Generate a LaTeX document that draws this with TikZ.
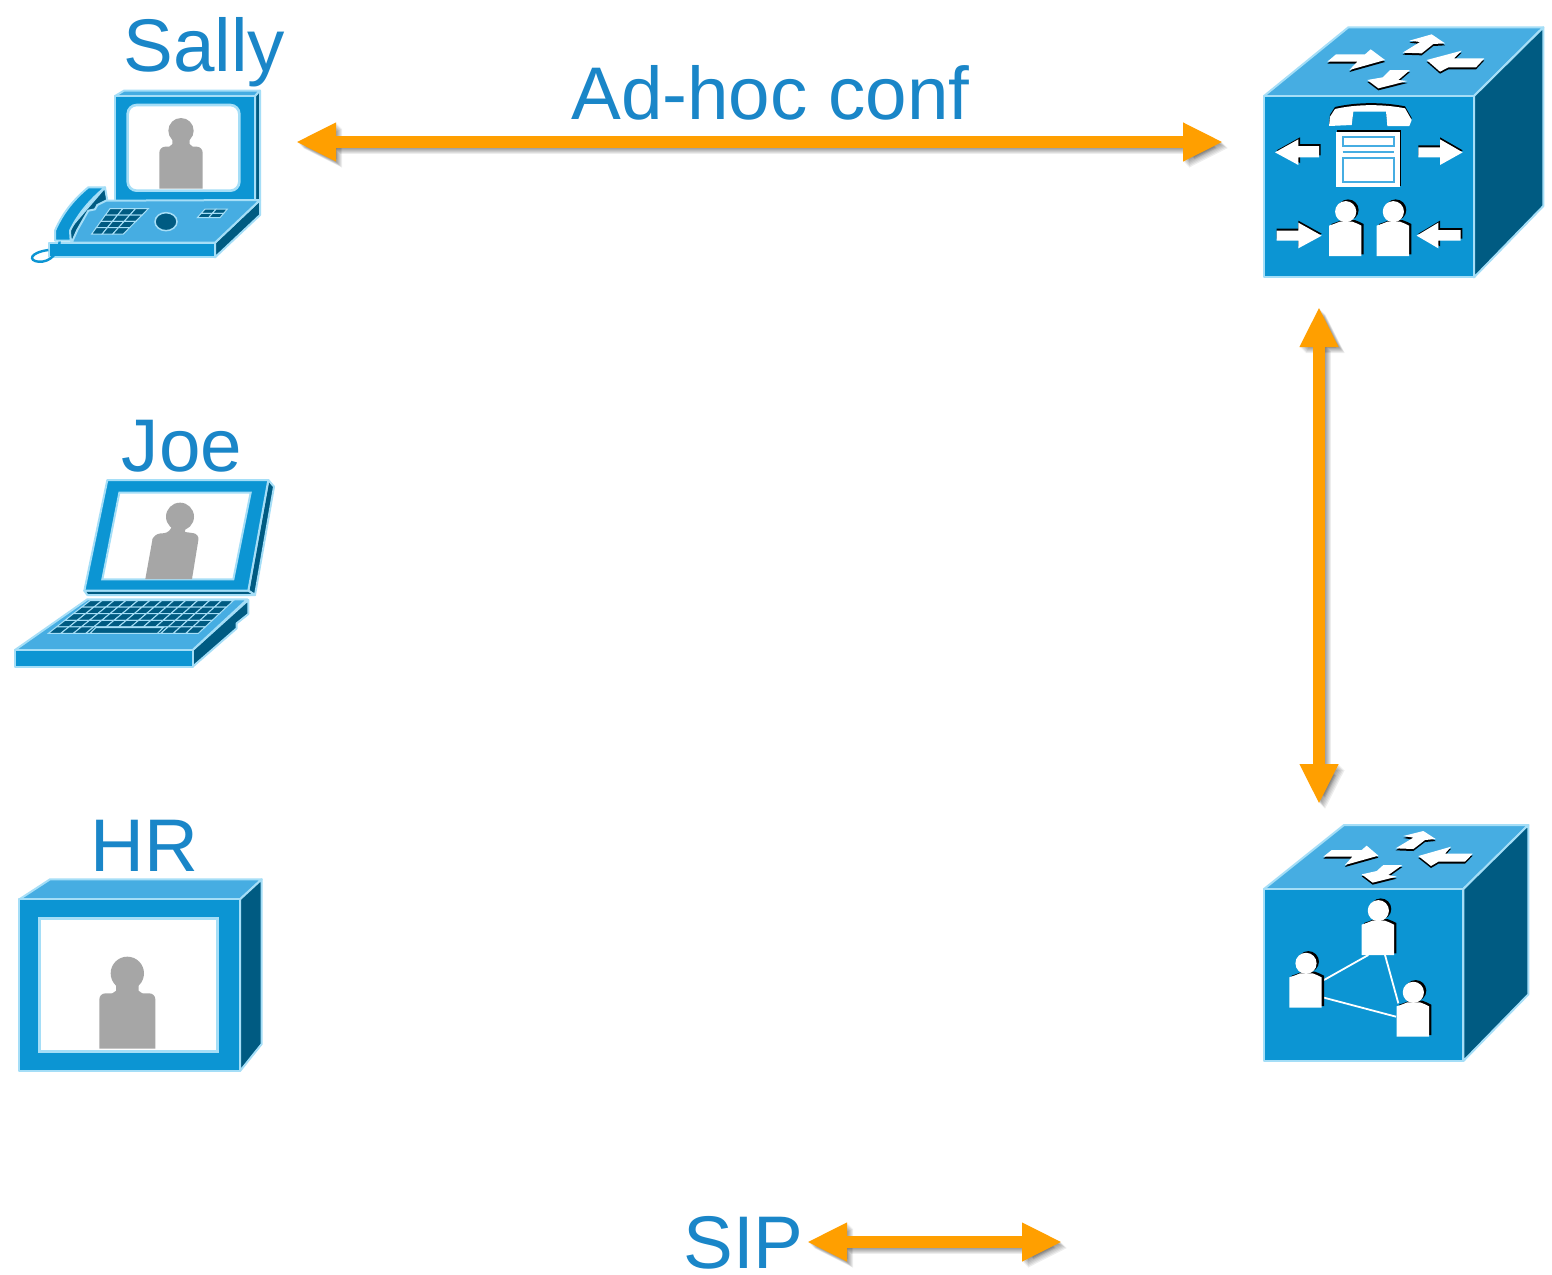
\documentclass[tikz,border=0pt]{standalone}
\usepackage{fontspec}
\setmainfont{Liberation Sans}
\usetikzlibrary{arrows.meta}
\definecolor{cfront}{HTML}{0C95D3}
\definecolor{ctop}{HTML}{46ADE2}
\definecolor{cside}{HTML}{005B82}
\definecolor{cedge}{HTML}{A5DEF7}
\definecolor{cgrey}{HTML}{A6A6A6}
\definecolor{corange}{HTML}{FF9F00}
\definecolor{ctext}{HTML}{1A86C8}
\tikzset{
  front/.style={fill=cfront,draw=cedge,line width=1pt,line join=round},
  topface/.style={fill=ctop,draw=cedge,line width=1pt,line join=round},
  sideface/.style={fill=cside,draw=cedge,line width=1pt,line join=round},
  screenface/.style={fill=white,draw=cedge,line width=1.3pt},
  darkkey/.style={fill=cside,draw=cedge,line width=.5pt},
  silhouette/.style={fill=cgrey,draw=none},
  whiteglyph/.style={fill=white,draw=none},
  blackglyph/.style={fill=black,draw=none},
  formline/.style={draw=ctop,line width=1pt},
  meshline/.style={draw=white,line width=.9pt},
  label/.style={text=ctext,font=\fontsize{37.3}{40}\selectfont,anchor=base west,inner sep=0pt},
  link/.style={draw=corange,line width=6pt,{Triangle[length=20pt,width=18pt]}-{Triangle[length=20pt,width=18pt]}},
  linkshadow/.style={draw=black,opacity=.07,line width=6pt,{Triangle[length=20pt,width=18pt]}-{Triangle[length=20pt,width=18pt]}},
  zoomed/.style={shift={#1},x=.16667pt,y=-.16667pt}
}
% arrow with its soft shadow
\newcommand\duplex[2]{%
  \foreach \dx/\dy in {1/1,2/2,3/3,4/4,5/5,6/6}
    \draw[linkshadow] ([shift={(\dx*.5pt,-\dy*.5pt)}]#1) -- ([shift={(\dx*.5pt,-\dy*.5pt)}]#2);
  \draw[link] (#1) -- (#2);}
% white glyph with a black offset copy: {dx,dy}{path}
\newcommand\glyph[2]{%
  \fill[blackglyph,shift={(#1)}] #2;
  \fill[whiteglyph] #2;}
\newcommand\whitebody[2]{(#1-50,#2+133) -- (#1-50,#2+42) -- (#1-33,#2+36) -- (#1-18,#2+30) -- (#1+20,#2+30) -- (#1+35,#2+36) -- (#1+47,#2+42) -- (#1+47,#2+133) -- cycle}
% white person: head x, head y
\newcommand\whiteperson[2]{%
  \begin{scope}[shift={(7*.16667pt,5*.16667pt)}]
    \fill[blackglyph] (#1,#2) circle[radius=5.3pt];
    \fill[blackglyph] \whitebody{#1}{#2};
  \end{scope}
  \fill[whiteglyph] (#1,#2) circle[radius=5.3pt];
  \fill[whiteglyph] \whitebody{#1}{#2};}
% grey person: cx, head y, head radius, half body width, shoulder y, bottom y
\newcommand\greyperson[6]{%
  \fill[silhouette] (#1,#2) circle[radius=#3*.16667pt];
  \fill[silhouette] (#1-.4*#4,#2) -- (#1-.4*#4,#5-8) -- (#1-.6*#4,#5+4) -- (#1+.6*#4,#5+4) -- (#1+.4*#4,#5-8) -- (#1+.4*#4,#2) -- cycle;
  \fill[silhouette] (#1-#4,#6) [rounded corners=3pt] -- (#1-#4,#5) -- (#1+#4,#5) [sharp corners] -- (#1+#4,#6) -- cycle;}
% key grid in a parallelogram: corners a(top-left x) b(top-right x) c(bottom-right x) d(bottom-left x) top bottom rows cols
\newcommand\keygrid[8]{%
  \foreach \r in {1,...,#7}{
    \foreach \c in {1,...,#8}{
      \pgfmathsetmacro\ya{#5+(#6-#5)*(\r-1)/#7}
      \pgfmathsetmacro\yb{#5+(#6-#5)*\r/#7}
      \pgfmathsetmacro\la{#1+(#4-#1)*(\r-1)/#7}
      \pgfmathsetmacro\ra{#2+(#3-#2)*(\r-1)/#7}
      \pgfmathsetmacro\lb{#1+(#4-#1)*\r/#7}
      \pgfmathsetmacro\rb{#2+(#3-#2)*\r/#7}
      \draw[darkkey] ({\la+(\ra-\la)*(\c-1)/#8},\ya) -- ({\la+(\ra-\la)*\c/#8},\ya) -- ({\lb+(\rb-\lb)*\c/#8},\yb) -- ({\lb+(\rb-\lb)*(\c-1)/#8},\yb) -- cycle;
    }}}
\begin{document}
\begin{tikzpicture}[x=.5pt,y=-.5pt]
\useasboundingbox (0,0) rectangle (1552,1274);
\fill[white] (0,0) rectangle (1552,1274);

% ---------- Sally: video phone
\begin{scope}[zoomed={(0,70)}]
  \draw[topface] (345,78) -- (372,62) -- (780,62) -- (765,78) -- cycle;
  \draw[sideface] (765,78) -- (780,62) -- (780,390) -- (765,395) -- cycle;
  \draw[front] (345,78) rectangle (765,395);
  \draw[screenface,rounded corners=4.5pt] (383,105) rectangle (718,362);
  \greyperson{543}{182}{38}{65}{230}{356}
  \draw[sideface] (645,518) -- (780,390) -- (780,435) -- (645,562) -- cycle;
  \draw[sideface] (315,352) -- (322,392) -- (215,518) -- (205,480) -- cycle;
  \draw[topface] (318,392) -- (780,390) -- (645,518) -- (215,518) -- (232,480) -- (265,422) -- (285,418) -- (292,405) -- cycle;
  \draw[front] (148,518) rectangle (645,562);
  \keygrid{330}{445}{370}{275}{416}{492}{4}{3}
  \draw[darkkey,line width=.75pt] (498,455) ellipse[x radius=33,y radius=27];
  \keygrid{615}{682}{660}{592}{417}{443}{2}{2}
  \draw[cfront,line width=1.2pt] (180,505) .. controls (178,550) and (150,578) .. (115,575) .. controls (85,572) and (88,548) .. (145,540);
  \draw[front] (165,482) .. controls (190,425) and (225,385) .. (265,352) -- (315,352) .. controls (270,390) and (235,430) .. (210,482) -- (212,512) -- (165,512) -- cycle;
\end{scope}

% ---------- Joe: laptop
\begin{scope}[zoomed={(0,470)}]
  \draw[sideface] (805,30) -- (822,50) -- (765,375) -- (745,362) -- cycle;
  \draw[sideface] (253,362) -- (745,362) -- (765,375) -- (262,375) -- cycle;
  \draw[front] (322,30) -- (805,30) -- (745,362) -- (253,362) -- cycle;
  \draw[screenface,line width=1pt] (358,68) -- (752,68) -- (700,328) -- (307,328) -- cycle;
  \fill[silhouette] (540,140) circle[radius=7pt];
  \fill[silhouette] (436,327) -- (458,205) [rounded corners=3pt] -- (462,192) -- (510,188) [sharp corners] -- (515,170) -- (555,170) -- (555,186) [rounded corners=3pt] -- (598,192) [sharp corners] -- (576,327) -- cycle;
  \draw[sideface] (578,540) -- (745,390) -- (745,432) -- (710,460) -- (710,475) -- (578,590) -- cycle;
  \draw[topface] (262,388) -- (742,388) -- (578,540) -- (45,540) -- cycle;
  \draw[front] (45,540) rectangle (578,592);
  \keygrid{270}{700}{595}{145}{392}{490}{5}{12}
  \draw[darkkey] (287,473) -- (490,473) -- (472,490) -- (270,490) -- cycle;
\end{scope}

% ---------- HR: video endpoint
\begin{scope}[zoomed={(0,870)}]
  \draw[topface] (58,88) -- (150,28) -- (785,28) -- (720,88) -- cycle;
  \draw[sideface] (720,88) -- (785,28) -- (785,522) -- (720,603) -- cycle;
  \draw[front] (58,88) rectangle (720,603);
  \draw[screenface] (118,145) rectangle (652,545);
  \greyperson{382}{310}{50}{84}{370}{536}
\end{scope}

% ---------- Conference bridge cube
\begin{scope}[zoomed={(1250,20)}]
  \draw[topface] (42,228) -- (295,22) -- (880,22) -- (672,228) -- cycle;
  \draw[sideface] (672,228) -- (880,22) -- (880,558) -- (672,772) -- cycle;
  \draw[front] (42,228) rectangle (672,772);
  \glyph{0,-6*.16667pt}{(232,125) -- (258,103) -- (345,103) -- (362,88) -- (405,120) -- (298,150) -- (322,125) -- cycle}
  \glyph{0,-6*.16667pt}{(458,98) -- (510,66) -- (478,62) -- (545,43) -- (585,70) -- (550,72) -- (515,100) -- cycle}
  \glyph{0,-6*.16667pt}{(530,120) -- (635,92) -- (612,115) -- (703,115) -- (678,142) -- (595,142) -- (570,155) -- cycle}
  \glyph{0,-6*.16667pt}{(480,150) -- (420,150) -- (398,172) -- (352,180) -- (385,205) -- (472,183) -- (445,180) -- cycle}
  % phone
  \glyph{0,6*.16667pt}{(237,318) -- (240,290) -- (255,267) .. controls (320,252) and (400,252) .. (465,265) -- (485,300) -- (478,318) -- (412,318) -- (408,275) -- (310,275) -- (305,315) -- cycle}
  \fill[black] (262,330) rectangle (454,498);
  \fill[white] (258,335) rectangle (450,500);
  \draw[formline] (280,352) rectangle (432,378);
  \draw[formline] (278,396) -- (432,396);
  \draw[formline] (278,415) rectangle (432,487);
  % side arrows
  \glyph{5*.16667pt,6*.16667pt}{(75,397) -- (145,358) -- (145,378) -- (207,378) -- (207,412) -- (145,412) -- (145,435) -- cycle}
  \glyph{0,6*.16667pt}{(505,382) -- (570,382) -- (570,358) -- (638,397) -- (570,435) -- (570,412) -- (505,412) -- cycle}
  \glyph{0,6*.16667pt}{(80,632) -- (145,632) -- (145,608) -- (215,647) -- (145,685) -- (145,662) -- (80,662) -- cycle}
  \glyph{5*.16667pt,6*.16667pt}{(500,647) -- (565,608) -- (565,630) -- (632,630) -- (632,662) -- (565,662) -- (565,685) -- cycle}
  \whiteperson{287}{575}
  \whiteperson{430}{575}
\end{scope}

% ---------- Meeting cube
\begin{scope}[zoomed={(1250,815)}]
  \draw[topface] (42,222) -- (282,30) -- (835,30) -- (640,222) -- cycle;
  \draw[sideface] (640,222) -- (835,30) -- (835,538) -- (640,738) -- cycle;
  \draw[front] (42,222) rectangle (640,738);
  \glyph{0,-6*.16667pt}{(220,125) -- (245,105) -- (335,105) -- (350,92) -- (385,122) -- (285,150) -- (307,125) -- cycle}
  \glyph{0,-6*.16667pt}{(437,100) -- (490,68) -- (460,63) -- (520,48) -- (557,72) -- (525,75) -- (490,102) -- cycle}
  \glyph{0,-6*.16667pt}{(505,123) -- (603,95) -- (585,116) -- (668,116) -- (645,140) -- (565,140) -- (543,153) -- cycle}
  \glyph{0,-6*.16667pt}{(457,150) -- (400,150) -- (380,168) -- (335,178) -- (368,203) -- (440,185) -- (415,180) -- cycle}
  \draw[meshline] (355,420) -- (222,495);
  \draw[meshline] (405,420) -- (445,565);
  \draw[meshline] (222,548) -- (438,605);
  \whiteperson{385}{287}
  \whiteperson{168}{445}
  \whiteperson{490}{532}
\end{scope}

% ---------- labels
\node[label] (sally) at (123,71) {Sally};
\node[label] (joe) at (121.5,471) {Joe};
\node[label] (hr) at (90,871) {HR};
\node[label] (adhoc) at (571,119) {Ad-hoc conf};
\node[label] (sip) at (683,1268) {SIP};

% ---------- connectors
\coordinate (sallyport) at (296,142);
\coordinate (bridgewest) at (1223,142);
\coordinate (bridgesouth) at (1319,307);
\coordinate (meetnorth) at (1319,804);
\coordinate (keyleft) at (807,1242);
\coordinate (keyright) at (1062,1242);
\duplex{sallyport}{bridgewest}
\duplex{bridgesouth}{meetnorth}
\duplex{keyleft}{keyright}
\end{tikzpicture}
\end{document}
